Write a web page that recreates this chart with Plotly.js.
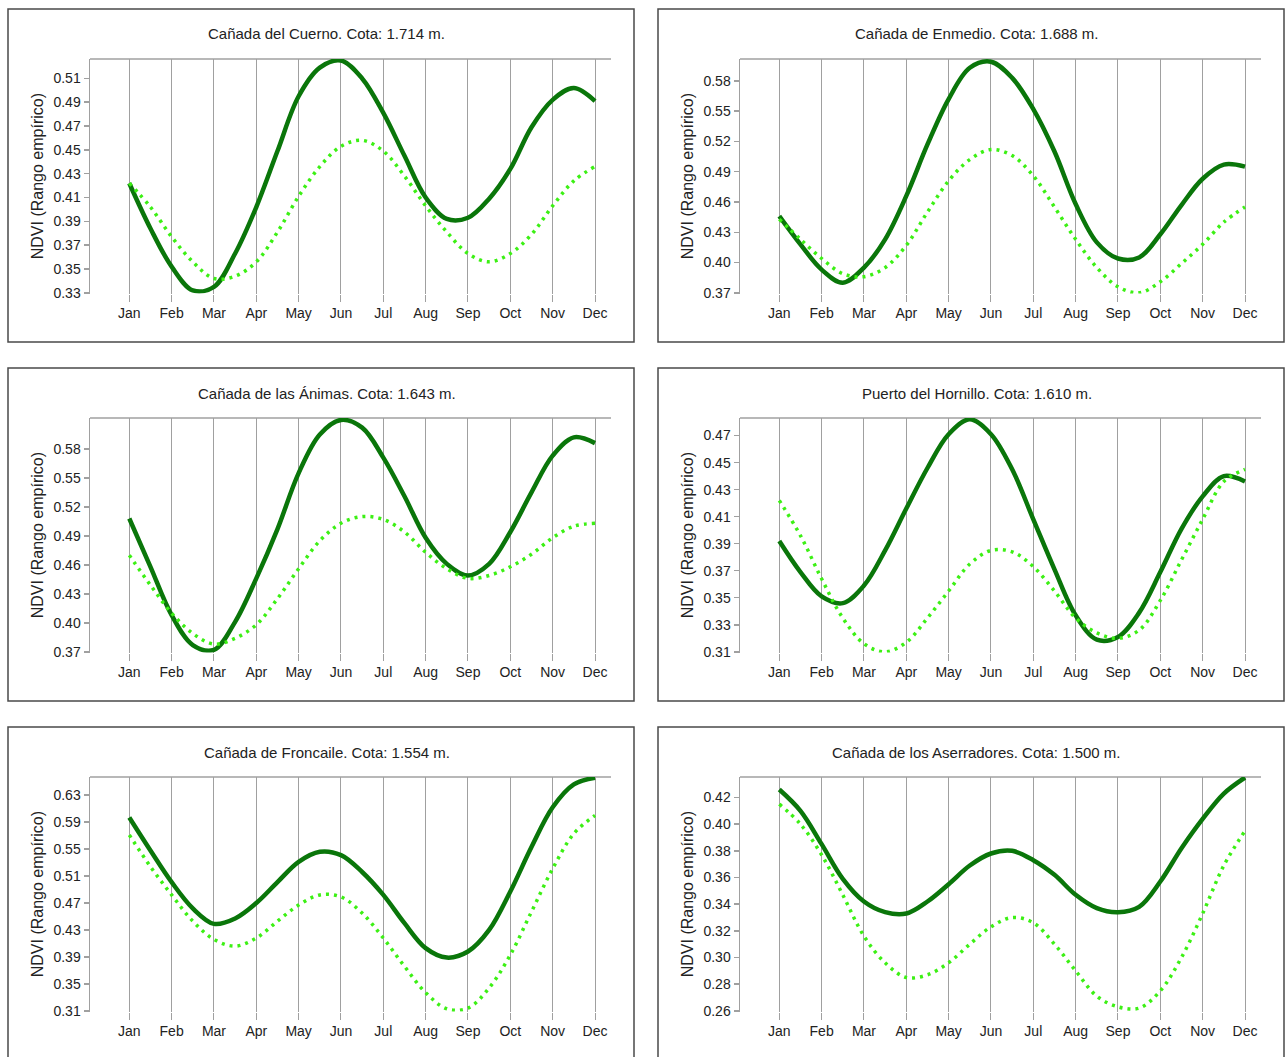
<!DOCTYPE html>
<html>
<head>
<meta charset="utf-8">
<script src="https://cdn.plot.ly/plotly-3.0.1.min.js"></script>
<style>html,body{margin:0;padding:0;background:#fff;}#chart{width:1285px;height:1057px;}</style>
</head>
<body>
<div id="chart"></div>
<script>
// ---- data ----
const months = ['Jan','Feb','Mar','Apr','May','Jun','Jul','Aug','Sep','Oct','Nov','Dec'];
const monthTicks = [1,2,3,4,5,6,7,8,9,10,11,12];
const xPos = [1,1.5,2,2.5,3,3.5,4,4.5,5,5.5,6,6.5,7,7.5,8,8.5,9,9.5,10,10.5,11,11.5,12];

const titles = [
  'Cañada del Cuerno. Cota: 1.714 m.',
  'Cañada de Enmedio. Cota: 1.688 m.',
  'Cañada de las Ánimas. Cota: 1.643 m.',
  'Puerto del Hornillo. Cota: 1.610 m.',
  'Cañada de Froncaile. Cota: 1.554 m.',
  'Cañada de los Aserradores. Cota: 1.500 m.'
];
const yTitle = 'NDVI (Rango empírico)';

const cuernoSolid  = [0.422,0.384,0.352,0.332,0.335,0.363,0.402,0.449,0.495,0.519,0.525,0.510,0.481,0.445,0.410,0.392,0.393,0.409,0.434,0.469,0.492,0.502,0.491];
const cuernoDotted = [0.422,0.402,0.377,0.356,0.342,0.344,0.356,0.381,0.411,0.436,0.453,0.458,0.449,0.428,0.403,0.381,0.363,0.356,0.363,0.379,0.403,0.424,0.436];
const cuernoTicks  = [0.33,0.35,0.37,0.39,0.41,0.43,0.45,0.47,0.49,0.51];

const enmedioSolid  = [0.446,0.418,0.393,0.380,0.395,0.423,0.466,0.517,0.562,0.593,0.599,0.583,0.552,0.510,0.458,0.420,0.404,0.405,0.428,0.457,0.483,0.497,0.495];
const enmedioDotted = [0.443,0.423,0.404,0.389,0.386,0.395,0.417,0.450,0.481,0.502,0.512,0.506,0.486,0.455,0.423,0.395,0.376,0.370,0.381,0.399,0.418,0.440,0.455];
const enmedioTicks  = [0.37,0.40,0.43,0.46,0.49,0.52,0.55,0.58];

const animasSolid  = [0.508,0.458,0.408,0.377,0.372,0.401,0.446,0.497,0.555,0.595,0.610,0.602,0.571,0.531,0.488,0.461,0.449,0.461,0.494,0.535,0.573,0.592,0.586];
const animasDotted = [0.470,0.439,0.410,0.389,0.378,0.384,0.398,0.425,0.456,0.485,0.503,0.510,0.507,0.494,0.473,0.456,0.446,0.449,0.458,0.471,0.488,0.500,0.503];
const animasTicks  = [0.37,0.40,0.43,0.46,0.49,0.52,0.55,0.58];

const hornilloSolid  = [0.392,0.369,0.351,0.346,0.359,0.385,0.416,0.446,0.471,0.482,0.471,0.445,0.408,0.371,0.337,0.319,0.321,0.339,0.369,0.401,0.425,0.440,0.436];
const hornilloDotted = [0.422,0.396,0.364,0.335,0.316,0.310,0.317,0.335,0.355,0.375,0.385,0.384,0.373,0.355,0.335,0.324,0.320,0.326,0.348,0.378,0.408,0.436,0.445];
const hornilloTicks  = [0.31,0.33,0.35,0.37,0.39,0.41,0.43,0.45,0.47];

const froncaileSolid  = [0.597,0.548,0.501,0.462,0.439,0.447,0.470,0.501,0.531,0.546,0.541,0.516,0.482,0.440,0.403,0.389,0.398,0.430,0.487,0.553,0.612,0.646,0.656];
const froncaileDotted = [0.571,0.524,0.482,0.443,0.416,0.406,0.418,0.443,0.467,0.482,0.479,0.455,0.418,0.376,0.337,0.313,0.314,0.344,0.393,0.457,0.521,0.573,0.600];
const froncaileTicks  = [0.31,0.35,0.39,0.43,0.47,0.51,0.55,0.59,0.63];

const aserradoresSolid  = [0.426,0.410,0.385,0.359,0.342,0.334,0.333,0.342,0.355,0.369,0.378,0.380,0.373,0.362,0.347,0.337,0.334,0.338,0.357,0.382,0.404,0.423,0.435];
const aserradoresDotted = [0.415,0.400,0.377,0.347,0.316,0.296,0.285,0.287,0.296,0.310,0.323,0.330,0.326,0.310,0.290,0.271,0.263,0.262,0.275,0.300,0.333,0.369,0.395];
const aserradoresTicks  = [0.26,0.28,0.30,0.32,0.34,0.36,0.38,0.40,0.42];

// ---- build ----
const panels = [
  {solid: cuernoSolid, dotted: cuernoDotted, ticks: cuernoTicks, top: 0.5263},
  {solid: enmedioSolid, dotted: enmedioDotted, ticks: enmedioTicks, top: 0.6017},
  {solid: animasSolid, dotted: animasDotted, ticks: animasTicks, top: 0.612},
  {solid: hornilloSolid, dotted: hornilloDotted, ticks: hornilloTicks, top: 0.483},
  {solid: froncaileSolid, dotted: froncaileDotted, ticks: froncaileTicks, top: 0.657},
  {solid: aserradoresSolid, dotted: aserradoresDotted, ticks: aserradoresTicks, top: 0.4354}
];

const W = 1285, H = 1057;
const GRAY = '#a0a0a0';
const FONT = 'Liberation Sans, Arial, sans-serif';
const data = [];
const layout = {
  width: W, height: H,
  margin: {l:0, r:0, t:0, b:0},
  paper_bgcolor: '#ffffff',
  plot_bgcolor: 'rgba(0,0,0,0)',
  showlegend: false,
  font: {family: FONT, size: 14, color: '#222'},
  shapes: [],
  annotations: []
};

panels.forEach((p, i) => {
  const col = i % 2, row = Math.floor(i / 2);
  const n = i + 1;
  const xa = 'x' + (n === 1 ? '' : n), ya = 'y' + (n === 1 ? '' : n);
  const left = 90 + 650 * col, right = 611 + 650 * col;
  const top = 59 + 359 * row, bottom = 293.5 + 359 * row;

  data.push({
    x: xPos, y: p.solid, xaxis: xa, yaxis: ya, type: 'scatter', mode: 'lines',
    line: {color: '#0a760a', width: 4.5, shape: 'spline', smoothing: 1},
    hoverinfo: 'skip'
  });
  data.push({
    x: xPos, y: p.dotted, xaxis: xa, yaxis: ya, type: 'scatter', mode: 'lines',
    line: {color: '#3cf014', width: 3.5, dash: '3px,5px', shape: 'spline', smoothing: 1},
    hoverinfo: 'skip'
  });

  const lo = p.ticks[0] - (p.top - p.ticks[0]) * 0.003;
  layout['xaxis' + (n === 1 ? '' : n)] = {
    domain: [left / W, right / W],
    anchor: ya,
    range: [0.072, 12.378],
    tickvals: monthTicks, ticktext: months,
    showgrid: true, gridcolor: GRAY, gridwidth: 1,
    ticks: 'outside', ticklen: 7, tickcolor: GRAY, tickwidth: 1,
    showline: false, zeroline: false,
    tickfont: {family: FONT, size: 14, color: '#222'},
    fixedrange: true
  };
  layout['yaxis' + (n === 1 ? '' : n)] = {
    domain: [1 - bottom / H, 1 - top / H],
    anchor: xa,
    range: [lo, p.top],
    tickvals: p.ticks, tickformat: '.2f',
    showgrid: false, zeroline: false,
    showline: true, linecolor: GRAY, linewidth: 1.5,
    ticks: 'outside', ticklen: 5, tickcolor: GRAY, tickwidth: 1.5,
    tickfont: {family: FONT, size: 14, color: '#222'},
    fixedrange: true
  };

  // panel frame
  layout.shapes.push({
    type: 'rect', xref: 'paper', yref: 'paper', layer: 'below',
    x0: (8 + 650 * col) / W, x1: (634 + 650 * col) / W,
    y0: 1 - (342 + 359 * row) / H, y1: 1 - (9 + 359 * row) / H,
    line: {color: '#4a4a4a', width: 1.5}, fillcolor: 'rgba(0,0,0,0)'
  });
  // top line of the plot area
  layout.shapes.push({
    type: 'line', xref: 'paper', yref: 'paper', layer: 'below',
    x0: left / W, x1: right / W, y0: 1 - top / H, y1: 1 - top / H,
    line: {color: GRAY, width: 1.5}
  });
  // panel title
  layout.annotations.push({
    xref: 'paper', yref: 'paper', x: (326.5 + 650 * col) / W, y: 1 - (34 + 359 * row) / H,
    xanchor: 'center', yanchor: 'middle', showarrow: false,
    text: titles[i], font: {family: FONT, size: 15, color: '#222'}
  });
  // y axis title
  layout.annotations.push({
    xref: 'paper', yref: 'paper', x: (37 + 650 * col) / W, y: 1 - ((top + bottom) / 2) / H,
    xanchor: 'center', yanchor: 'middle', showarrow: false, textangle: -90,
    text: yTitle, font: {family: FONT, size: 16, color: '#222'}
  });
});

Plotly.newPlot('chart', data, layout, {displayModeBar: false, staticPlot: true});
</script>
</body>
</html>
